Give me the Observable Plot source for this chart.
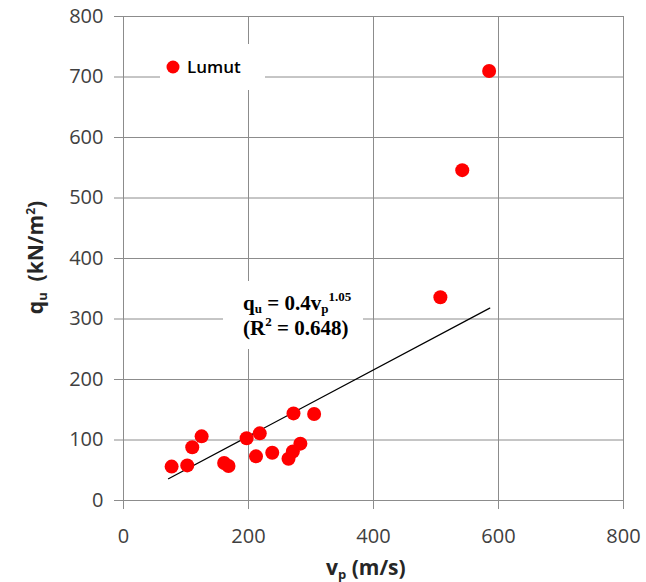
<!DOCTYPE html>
<html><head><meta charset="utf-8">
<script src="https://cdn.jsdelivr.net/npm/d3@7"></script>
<script src="https://cdn.jsdelivr.net/npm/@observablehq/plot@0.6"></script>
<style>
body{margin:0;background:#fff;}
#wrap{position:relative;width:646px;height:582px;font-family:"Open Sans",sans-serif;overflow:hidden;}
#wrap svg{position:absolute;left:0;top:0;}
.ov{position:absolute;background:#fff;}
#legend{left:160px;top:44px;width:105px;height:46px;}
#eq{left:223px;top:281px;width:140px;height:68px;font-family:"Liberation Serif","Times New Roman",serif;font-weight:bold;font-size:21px;color:#000;}
#eq div{position:absolute;left:20px;white-space:nowrap;line-height:1;}
#eq sub{font-size:13px;vertical-align:-3px;line-height:0;}
#eq sup{font-size:13px;vertical-align:9px;line-height:0;}
.title{position:absolute;font-weight:bold;font-size:21px;color:#262626;white-space:nowrap;line-height:1;}
.title sub{font-size:13px;vertical-align:-4px;line-height:0;}
.title sup{font-size:12px;vertical-align:8px;line-height:0;}
</style></head><body><div id="wrap"></div>
<script>
// data
const vp = [585, 542, 507, 77, 102, 110, 125, 161, 168, 197, 218, 212, 238, 264, 271, 283, 272, 305];
const qu = [710, 546, 336, 56, 58, 88, 106, 62, 57, 103, 111, 73, 79, 69, 81, 94, 144, 143];
const trendVp = [72, 586];
const trendQu = [36, 318];
const xTicks = [0, 200, 400, 600, 800];
const yTicks = [0, 100, 200, 300, 400, 500, 600, 700, 800];
const seriesName = "Lumut";

const points = vp.map((v, i) => ({vp: v, qu: qu[i]}));
const trend = trendVp.map((v, i) => ({vp: v, qu: trendQu[i]}));
const gridColor = "#8c8c8c";

const chart = Plot.plot({
  width: 646, height: 582,
  marginLeft: 123, marginRight: 23, marginTop: 16, marginBottom: 82,
  x: {domain: [0, 800]},
  y: {domain: [0, 800]},
  style: {fontFamily: "Open Sans, sans-serif", fontSize: "20px", color: "#404040", background: "#fff"},
  marks: [
    Plot.gridX(xTicks.filter(t => t > 0), {stroke: gridColor, strokeOpacity: 1}),
    Plot.gridY(yTicks.filter(t => t > 0), {stroke: gridColor, strokeOpacity: 1}),
    Plot.ruleX([0], {stroke: gridColor}),
    Plot.ruleY([0], {stroke: gridColor}),
    Plot.axisX(xTicks, {tickSize: 9, tickPadding: 19, label: null, stroke: gridColor, fill: "#404040", fontSize: 20}),
    Plot.axisY(yTicks, {tickSize: 9, tickPadding: 11, label: null, stroke: gridColor, fill: "#404040", fontSize: 20}),
    Plot.line(trend, {x: "vp", y: "qu", stroke: "#000", strokeWidth: 1.2}),
    Plot.dot(points, {x: "vp", y: "qu", r: 7, fill: "#ff0000", stroke: "none"})
  ]
});
const wrap = document.getElementById("wrap");
wrap.appendChild(chart);

// legend
const lg = document.createElement("div");
lg.className = "ov"; lg.id = "legend";
lg.innerHTML = `<svg width="105" height="46" style="position:absolute;left:0;top:0"><circle cx="13" cy="23" r="6.5" fill="#ff0000"/><text x="27" y="29" font-family="Open Sans, sans-serif" font-weight="600" font-size="17" fill="#000">${seriesName}</text></svg>`;
wrap.appendChild(lg);

// equation
const eq = document.createElement("div");
eq.className = "ov"; eq.id = "eq";
eq.innerHTML = `<div style="top:12px">q<sub>u</sub> = 0.4v<sub>p</sub><sup>1.05</sup></div><div style="top:37px">(R<sup>2</sup> = 0.648)</div>`;
wrap.appendChild(eq);

// axis titles
const xt = document.createElement("div");
xt.className = "title";
xt.innerHTML = `v<sub>p</sub> (m/s)`;
wrap.appendChild(xt);
xt.style.left = (366 - xt.offsetWidth / 2) + "px";
xt.style.top = "557px";

const yt = document.createElement("div");
yt.className = "title";
yt.innerHTML = `q<sub>u</sub> &nbsp;(kN/m<sup>2</sup>)`;
wrap.appendChild(yt);
const w = yt.offsetWidth, h = yt.offsetHeight;
yt.style.left = (35 - w / 2) + "px";
yt.style.top = (257 - h / 2) + "px";
yt.style.transform = "rotate(-90deg)";
</script>
</body></html>
